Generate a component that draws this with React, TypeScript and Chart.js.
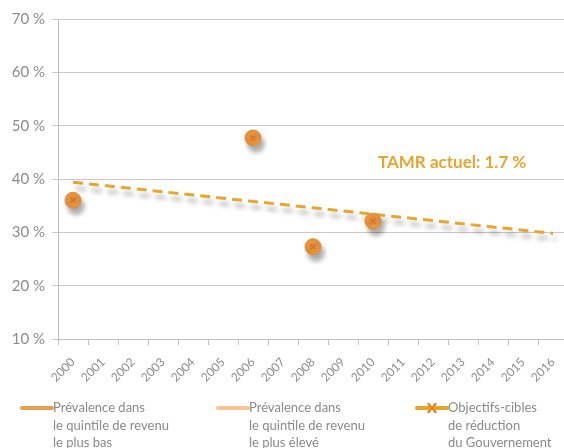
import React, { useEffect, useRef } from "react";
import { Chart, registerables } from "chart.js";

Chart.register(...registerables);

const years = ["2000", "2001", "2002", "2003", "2004", "2005", "2006", "2007", "2008", "2009", "2010", "2011", "2012", "2013", "2014", "2015", "2016"];
const prevalenceLowest = [36, null, null, null, null, null, 47.7, null, 27.3, null, 32.1, null, null, null, null, null, null];
const reductionTarget = [39.4, 38.8, 38.2, 37.6, 37.0, 36.4, 35.8, 35.2, 34.6, 34.0, 33.4, 32.8, 32.2, 31.6, 31.0, 30.4, 29.8];
const yTicks = [10, 20, 30, 40, 50, 60, 70];
const tamrLabel = "TAMR actuel: 1.7 %";
const legendLowest = ["Prévalence dans", "le quintile de revenu", "le plus bas"];
const legendHighest = ["Prévalence dans", "le quintile de revenu", "le plus élevé"];
const legendTarget = ["Objectifs-cibles", "de réduction", "du Gouvernement"];

const FONT = "Lato, 'Open Sans', sans-serif";

const shadowPlugin = {
  id: "shadowPlugin",
  beforeDatasetDraw(chart: any, args: any) {
    const ctx = chart.ctx;
    ctx.save();
    if (args.index === 1 || args.index === 2) {
      ctx.shadowColor = "rgba(0,0,0,0.33)";
      ctx.shadowBlur = 5;
      ctx.shadowOffsetX = 3;
      ctx.shadowOffsetY = 6;
    }
  },
  afterDatasetDraw(chart: any) {
    chart.ctx.restore();
  },
};

const overlayPlugin = {
  id: "overlayPlugin",
  afterDraw(chart: any) {
    const ctx = chart.ctx;
    const xs = chart.scales.x;
    const ys = chart.scales.y;
    ctx.save();
    // TAMR label
    ctx.font = `bold 17px ${FONT}`;
    ctx.fillStyle = "#E5A530";
    ctx.textBaseline = "alphabetic";
    ctx.textAlign = "left";
    ctx.fillText(tamrLabel, xs.getPixelForValue(10) + 5, ys.getPixelForValue(42));

    // legend
    const items = [
      { x: 22, lines: legendLowest, color: "#E9A04E", marker: false },
      { x: 218, lines: legendHighest, color: "#F2C58E", marker: false },
      { x: 417, lines: legendTarget, color: "#E7A52A", marker: true },
    ];
    const baseY = 408;
    const lh = 17.5;
    items.forEach((it) => {
      ctx.strokeStyle = it.color;
      ctx.lineWidth = 4;
      ctx.lineCap = "round";
      ctx.beginPath();
      ctx.moveTo(it.x, baseY);
      ctx.lineTo(it.x + 30, baseY);
      ctx.stroke();
      if (it.marker) {
        const cx = it.x + 15;
        ctx.strokeStyle = "#E08A1E";
        ctx.lineWidth = 2.5;
        ctx.beginPath();
        ctx.moveTo(cx - 3.5, baseY - 4);
        ctx.lineTo(cx + 3.5, baseY + 4);
        ctx.moveTo(cx + 3.5, baseY - 4);
        ctx.lineTo(cx - 3.5, baseY + 4);
        ctx.stroke();
      }
      ctx.fillStyle = "#8A8A8A";
      ctx.font = `13px ${FONT}`;
      ctx.textBaseline = "middle";
      it.lines.forEach((t, i) => ctx.fillText(t, it.x + 31, baseY + i * lh));
    });
    ctx.restore();
  },
};

export default function App() {
  const ref = useRef<HTMLCanvasElement | null>(null);
  useEffect(() => {
    if (!ref.current) return;
    const chart = new Chart(ref.current, {
      type: "line",
      data: {
        labels: years,
        datasets: [
          {
            label: "cross",
            data: prevalenceLowest,
            showLine: false,
            pointStyle: "crossRot",
            pointRadius: 3.5,
            pointBorderColor: "#D2762A",
            pointBorderWidth: 1.5,
            pointBackgroundColor: "#D2762A",
          },
          {
            label: "Prévalence dans le quintile de revenu le plus bas",
            data: prevalenceLowest,
            showLine: false,
            pointStyle: "circle",
            pointRadius: 8,
            pointBackgroundColor: "#EA953F",
            pointBorderColor: "#E08A36",
            pointBorderWidth: 1,
          },
          {
            label: "Objectifs-cibles de réduction du Gouvernement",
            data: reductionTarget,
            borderColor: "#E8A72C",
            borderWidth: 3,
            borderDash: [10, 6],
            pointRadius: 0,
            fill: false,
            tension: 0,
          },
        ],
      },
      options: {
        animation: false,
        responsive: false,
        events: [],
        layout: { padding: { top: 19, right: 12, left: 0, bottom: 0 } },
        plugins: { legend: { display: false }, tooltip: { enabled: false }, title: { display: false } },
        scales: {
          x: {
            type: "category",
            offset: true,
            grid: { offset: true, drawOnChartArea: false, drawTicks: true, tickLength: 6, color: "#BFBFBF" },
            border: { color: "#BFBFBF" },
            ticks: {
              autoSkip: false,
              maxRotation: 45,
              minRotation: 45,
              color: "#8C8C8C",
              font: { family: FONT, size: 12 },
              padding: 10,
            },
            afterFit: (s: any) => {
              s.height = 109;
            },
          },
          y: {
            min: 10,
            max: 70,
            afterBuildTicks: (s: any) => {
              s.ticks = yTicks.map((v) => ({ value: v }));
            },
            grid: { color: "#C9C9C9", tickLength: 6, drawTicks: true },
            border: { color: "#BFBFBF" },
            ticks: {
              color: "#8C8C8C",
              font: { family: FONT, size: 15 },
              padding: 7,
              callback: (v: any) => `${v} %`,
            },
            afterFit: (s: any) => {
              s.width = 58;
            },
          },
        },
      },
      plugins: [shadowPlugin, overlayPlugin],
    });
    return () => chart.destroy();
  }, []);
  return (
    <div style={{ position: "fixed", left: 0, top: 0, width: 564, height: 448, overflow: "hidden", background: "#fff" }}>
      <canvas ref={ref} width={580} height={448} style={{ display: "block" }} />
    </div>
  );
}
